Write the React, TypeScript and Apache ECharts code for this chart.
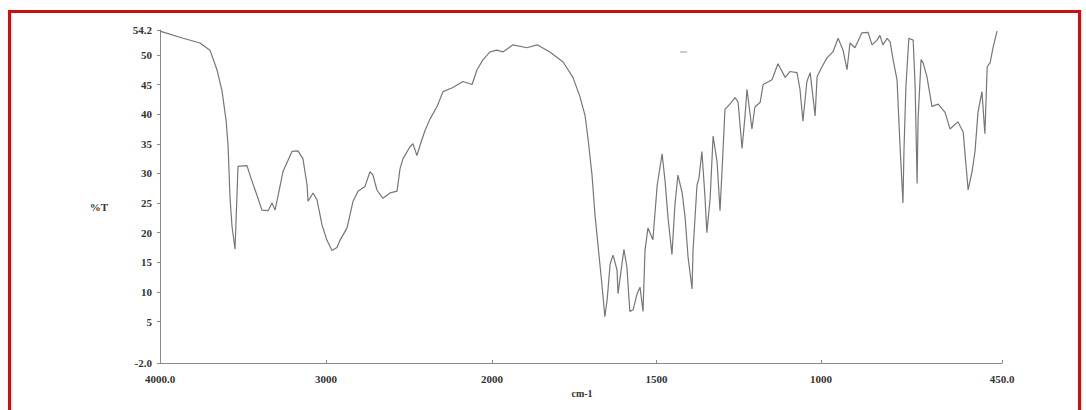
import React, { useEffect, useRef } from "react";
import * as echarts from "echarts";

// 4000–2000 cm-1 region (compressed scale)
const highWavenumbers = [4000, 3861, 3759, 3699, 3657, 3627, 3602, 3590, 3578, 3566, 3548, 3530, 3476, 3458, 3416, 3386, 3349, 3325, 3307, 3289, 3259, 3205, 3169, 3139, 3114, 3108, 3078, 3054, 3024, 2994, 2964, 2934, 2916, 2873, 2837, 2807, 2765, 2735, 2717, 2693, 2657, 2614, 2572, 2554, 2536, 2494, 2476, 2452, 2434, 2404, 2373, 2331, 2295, 2235, 2175, 2120, 2090, 2054, 2012, 2000];
const highTransmittance = [54, 52.8, 52, 50.8, 47.5, 44, 39, 34.7, 25.8, 21, 17.2, 31.2, 31.3, 29.7, 26.3, 23.8, 23.7, 25, 23.8, 26.2, 30.3, 33.7, 33.8, 32.5, 28, 25.3, 26.7, 25.5, 21.3, 18.7, 17, 17.5, 18.7, 20.8, 25.3, 27, 27.8, 30.3, 29.7, 27.2, 25.8, 26.7, 27, 30.8, 32.5, 34.5, 35, 33, 34.7, 37.2, 39.2, 41.3, 43.8, 44.5, 45.5, 45, 47.5, 49.2, 50.5, 50.6];

// 2000–450 cm-1 region (expanded scale)
const lowWavenumbers = [2000, 1985, 1967, 1936, 1894, 1863, 1824, 1784, 1754, 1733, 1717, 1708, 1696, 1687, 1678, 1666, 1657, 1650, 1641, 1632, 1620, 1617, 1605, 1599, 1590, 1581, 1571, 1559, 1550, 1541, 1535, 1526, 1511, 1498, 1483, 1474, 1465, 1453, 1444, 1435, 1422, 1413, 1404, 1392, 1389, 1377, 1371, 1362, 1353, 1347, 1337, 1328, 1316, 1307, 1298, 1292, 1277, 1261, 1252, 1240, 1231, 1225, 1210, 1201, 1185, 1176, 1149, 1131, 1109, 1094, 1073, 1064, 1055, 1043, 1033, 1018, 1012, 997, 982, 964, 948, 933, 921, 912, 897, 876, 857, 845, 830, 821, 812, 799, 790, 781, 769, 760, 751, 748, 742, 733, 720, 714, 708, 705, 696, 690, 678, 663, 644, 623, 608, 584, 568, 556, 553, 541, 532, 523, 511, 502, 495, 486, 477, 465];
const lowTransmittance = [50.6, 50.8, 50.5, 51.7, 51.2, 51.7, 50.5, 48.8, 46.2, 43, 39.7, 35.8, 29.7, 23, 18, 11.3, 5.8, 8.7, 14.7, 16.2, 13.7, 9.7, 14.7, 17.2, 14.2, 6.7, 7, 9.7, 10.8, 6.7, 17, 20.8, 18.8, 28, 33.3, 28.7, 22.5, 16.3, 24.7, 29.7, 26.7, 22.5, 15.8, 10.5, 17, 28, 29.2, 33.7, 26.3, 20, 25.8, 36.3, 32, 23.7, 33.7, 40.8, 41.7, 42.8, 42, 34.2, 39.7, 44.2, 37.5, 41.2, 42, 45, 45.8, 48.5, 46.2, 47.2, 47, 44.2, 38.8, 45.5, 47, 39.7, 46.3, 48, 49.5, 50.5, 52.8, 50.8, 47.5, 52, 51.2, 53.7, 53.8, 51.7, 52.5, 53.3, 51.7, 52.8, 52.2, 49.2, 45.8, 34.7, 25, 33.7, 44.7, 52.8, 52.5, 44.7, 28.3, 39.2, 49.2, 48.7, 46.3, 41.3, 41.7, 40.3, 37.5, 38.7, 37, 29.2, 27.2, 30.3, 33.7, 40.3, 43.8, 36.7, 48, 48.7, 51.3, 54];

const yTicks = [-2, 5, 10, 15, 20, 25, 30, 35, 40, 45, 50, 54.2];
const highXTicks = [4000, 3000];
const lowXTicks = [2000, 1500, 1000, 450];
const yMin = -2;
const yMax = 54.2;

const FONT = "'Liberation Serif', 'DejaVu Serif', serif";
const LINE = "#767676";
const AXIS = "#8a8a8a";
const TEXT = "#333333";

function fmtX(v: number) {
  if (v === 4000) return "4000.0";
  if (v === 450) return "450.0";
  return String(v);
}
function fmtY(v: number) {
  if (v === -2) return "-2.0";
  if (v === 54.2) return "54.2";
  return String(v);
}

export default function App() {
  const ref = useRef<HTMLDivElement>(null);
  useEffect(() => {
    if (!ref.current) return;
    const chart = echarts.init(ref.current, null, { renderer: "svg" });
    const highData = highWavenumbers.map((w, i) => [w, highTransmittance[i]]);
    const lowData = lowWavenumbers.map((w, i) => [w, lowTransmittance[i]]);
    const axisLabelBase = { color: TEXT, fontFamily: FONT, fontSize: 11, fontWeight: "bold" };
    const xAxisBase = (min: number, max: number, ticks: number[], gridIndex: number) => ({
      type: "value",
      gridIndex,
      min,
      max,
      inverse: true,
      splitLine: { show: false },
      axisLine: { show: true, onZero: false, lineStyle: { color: AXIS, width: 1 } },
      axisTick: { show: true, inside: true, length: 3, customValues: ticks, lineStyle: { color: AXIS } },
      axisLabel: { ...axisLabelBase, margin: 10, customValues: ticks, formatter: fmtX },
    });
    chart.setOption({
      animation: false,
      backgroundColor: "#ffffff",
      grid: [
        { left: 160, top: 30, width: 332, height: 333, containLabel: false, outerBoundsMode: "none" },
        { left: 492, top: 30, width: 510, height: 333, containLabel: false, outerBoundsMode: "none" },
      ],
      xAxis: [
        xAxisBase(2000, 4000, highXTicks, 0),
        xAxisBase(450, 2000, lowXTicks, 1),
      ],
      yAxis: [
        {
          type: "value",
          gridIndex: 0,
          min: yMin,
          max: yMax,
          splitLine: { show: false },
          axisLine: { show: true, onZero: false, lineStyle: { color: AXIS, width: 1 } },
          axisTick: { show: true, length: 3, customValues: yTicks, lineStyle: { color: AXIS } },
          axisLabel: { ...axisLabelBase, margin: 8, customValues: yTicks, formatter: fmtY },
        },
        {
          type: "value",
          gridIndex: 1,
          min: yMin,
          max: yMax,
          show: false,
        },
      ],
      series: [
        {
          type: "line",
          xAxisIndex: 0,
          yAxisIndex: 0,
          data: highData,
          showSymbol: false,
          lineStyle: { color: LINE, width: 1.2 },
          silent: true,
        },
        {
          type: "line",
          xAxisIndex: 1,
          yAxisIndex: 1,
          data: lowData,
          showSymbol: false,
          lineStyle: { color: LINE, width: 1.2 },
          silent: true,
        },
      ],
      graphic: [
        {
          type: "rect",
          shape: { x: 9.5, y: 11.5, width: 1070, height: 410 },
          style: { fill: "none", stroke: "#c81010", lineWidth: 3 },
          silent: true,
        },
        {
          type: "text",
          x: 99,
          y: 207,
          style: { text: "%T", fill: TEXT, font: `bold 11px ${FONT}`, textAlign: "center", textVerticalAlign: "middle" },
        },
        {
          type: "text",
          x: 582,
          y: 393,
          style: { text: "cm-1", fill: TEXT, font: `bold 10px ${FONT}`, textAlign: "center", textVerticalAlign: "middle" },
        },
        {
          type: "line",
          shape: { x1: 680, y1: 52, x2: 687, y2: 52 },
          style: { stroke: "#9a9a9a", lineWidth: 1 },
          silent: true,
        },
      ],
    });
    return () => chart.dispose();
  }, []);
  return (
    <div
      ref={ref}
      style={{ position: "fixed", left: 0, top: 0, width: 1086, height: 410, background: "#fff" }}
    />
  );
}
